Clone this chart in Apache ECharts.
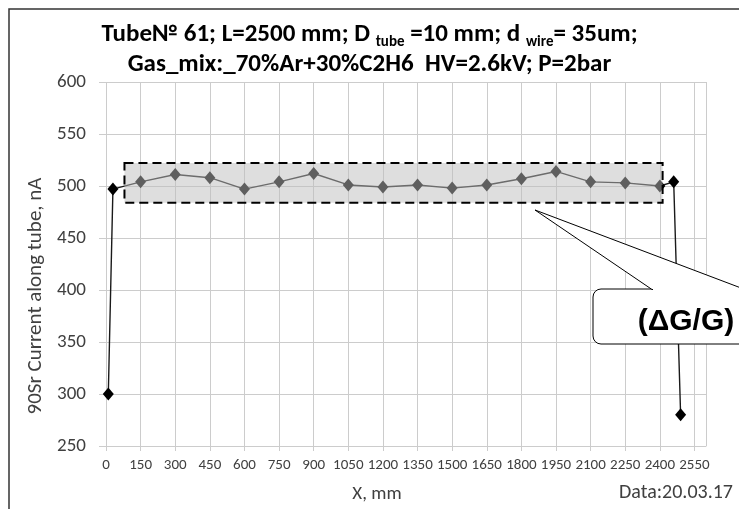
<!DOCTYPE html>
<html>
<head>
<meta charset="utf-8">
<script src="https://cdn.jsdelivr.net/npm/echarts@6/dist/echarts.min.js"></script>
<style>
  html, body { margin: 0; padding: 0; background: #fff; }
  #chart { width: 739px; height: 509px; }
</style>
</head>
<body>
<div id="chart"></div>
<script>
// positions along the tube, mm
const xPos = [10, 30, 150, 300, 450, 600, 750, 900, 1050, 1200, 1350, 1500,
              1650, 1800, 1950, 2100, 2250, 2400, 2460, 2490];
// 90Sr current, nA
const current = [300, 497, 504, 511, 508, 497, 504, 512, 501, 499, 501, 498,
                 501, 507, 514, 504, 503, 500, 504, 280];
// dashed (dG/G) box: x from..to, y from..to
const boxX = [80, 2412];
const boxY = [484, 522];

const axisFont = 'Calibri, Carlito, "Liberation Sans Narrow", sans-serif';
const textGray = '#404040';
const gridGray = '#cccccc';

const chart = echarts.init(document.getElementById('chart'));

const points = xPos.map((x, i) => [x, current[i]]);

const options = {
    animation: false,
    backgroundColor: '#fff',
    title: {
        left: 'center',
        top: 15,
        text: '{a|Tube№ 61; L=2500 mm; D }{s|tube}{a| =10 mm; d }{s|wire}{a|= 35um;}\n{a|Gas_mix:_70%Ar+30%C2H6  HV=2.6kV; P=2bar}',
        textStyle: {
            rich: {
                a: {
                    fontFamily: axisFont,
                    fontWeight: 'bold',
                    fontSize: 25,
                    lineHeight: 30,
                    color: '#000'
                },
                s: {
                    fontFamily: axisFont,
                    fontWeight: 'bold',
                    fontSize: 15,
                    lineHeight: 16,
                    verticalAlign: 'bottom',
                    color: '#000'
                }
            }
        }
    },
    grid: {
        left: 106,
        right: 33,
        top: 82,
        bottom: 61
    },
    xAxis: {
        type: 'value',
        min: 0,
        max: 2600,
        interval: 150,
        name: 'X, mm',
        nameLocation: 'middle',
        nameGap: 39,
        nameTextStyle: { fontFamily: axisFont, fontSize: 19, color: textGray, padding: [0, 58, 0, 0] },
        axisLine: { show: true, lineStyle: { color: gridGray } },
        axisTick: { show: true, length: 5, lineStyle: { color: gridGray } },
        axisLabel: {
            fontFamily: axisFont, fontSize: 15, color: textGray, margin: 12,
            showMaxLabel: false,
            formatter: v => String(v)
        },
        splitLine: { show: true, lineStyle: { color: gridGray, width: 1 } }
    },
    yAxis: {
        type: 'value',
        min: 250,
        max: 600,
        interval: 50,
        name: '90Sr Current along tube, nA',
        nameLocation: 'middle',
        nameGap: 59,
        nameTextStyle: { fontFamily: axisFont, fontSize: 21, color: textGray, padding: [0, 64, 0, 0] },
        axisLine: { show: false },
        axisTick: { show: true, length: 7, lineStyle: { color: gridGray } },
        axisLabel: { fontFamily: axisFont, fontSize: 19, color: textGray, margin: 20 },
        splitLine: { show: true, lineStyle: { color: gridGray, width: 1 } }
    },
    series: [
        {
            type: 'line',
            data: points,
            z: 2,
            symbol: 'diamond',
            symbolSize: [11, 13],
            itemStyle: { color: '#000' },
            lineStyle: { color: '#1a1a1a', width: 1.4 }
        }
    ]
};

chart.setOption(options);

// dashed box sits over the series, placed from its data corners
const c1 = chart.convertToPixel({ gridIndex: 0 }, [boxX[0], boxY[1]]);
const c2 = chart.convertToPixel({ gridIndex: 0 }, [boxX[1], boxY[0]]);

chart.setOption({
    graphic: [
        {
            id: 'frame',
            type: 'rect',
            shape: { x: 9, y: 9, width: 800, height: 600 },
            style: { fill: 'none', stroke: '#333', lineWidth: 1.5 },
            z: 1
        },
        {
            id: 'box',
            type: 'rect',
            shape: { x: c1[0], y: c1[1], width: c2[0] - c1[0], height: c2[1] - c1[1] },
            style: {
                fill: 'rgba(189,189,189,0.5)',
                stroke: '#000',
                lineWidth: 2,
                lineDash: [9, 5]
            },
            z: 9
        },
        {
            id: 'callout',
            type: 'rect',
            shape: { x: 593, y: 289, width: 200, height: 55, r: 8 },
            style: { fill: '#fff', stroke: '#000', lineWidth: 1 },
            z: 10
        },
        {
            id: 'pointer',
            type: 'polygon',
            shape: { points: [[652, 289.5], [535, 210], [745, 289.5]] },
            style: { fill: '#fff', stroke: '#000', lineWidth: 1 },
            z: 11
        },
        {
            id: 'gap',
            type: 'line',
            shape: { x1: 653, y1: 289.5, x2: 760, y2: 289.5 },
            style: { stroke: '#fff', lineWidth: 1.6 },
            z: 12
        },
        {
            id: 'dg',
            type: 'text',
            x: 686,
            y: 322,
            style: {
                text: '(ΔG/G)',
                font: 'bold 30px "Liberation Sans", Arial, sans-serif',
                fill: '#000',
                align: 'center',
                verticalAlign: 'middle'
            },
            z: 13
        },
        {
            id: 'date',
            type: 'text',
            x: 733,
            y: 493,
            style: {
                text: 'Data:20.03.17',
                font: '20px ' + axisFont,
                fill: textGray,
                align: 'right',
                verticalAlign: 'middle'
            },
            z: 13
        }
    ]
});
</script>
</body>
</html>
